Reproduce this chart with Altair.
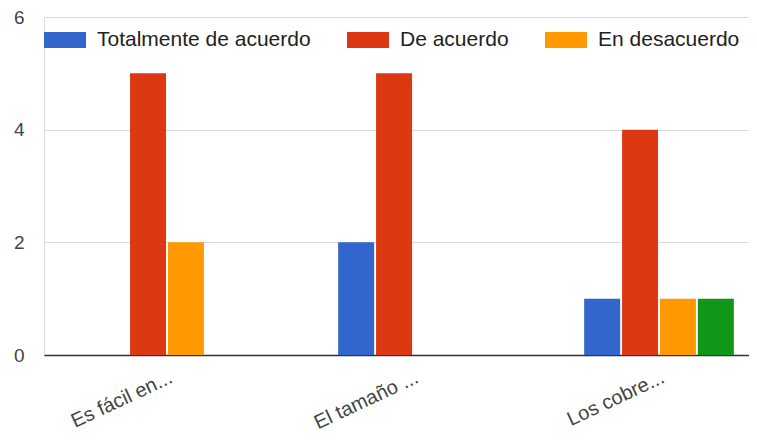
import altair as alt
import pandas as pd

categories = ["Es fácil en...", "El tamaño ...", "Los cobre..."]
series = ["Totalmente de acuerdo", "De acuerdo", "En desacuerdo", "Totalmente en desacuerdo"]
colors = ["#3366cc", "#dc3912", "#ff9900", "#109618"]
values = {
    "Totalmente de acuerdo": [0, 2, 1],
    "De acuerdo": [5, 5, 4],
    "En desacuerdo": [2, 0, 1],
    "Totalmente en desacuerdo": [0, 0, 1],
}
y_ticks = [0, 2, 4, 6]

rows = []
for s in series:
    for c, v in zip(categories, values[s]):
        rows.append({"categoria": c, "serie": s, "valor": v})
df = pd.DataFrame(rows)

FONT = "Arial, Liberation Sans"

bars = alt.Chart(df).mark_bar(size=36).encode(
    x=alt.X(
        "categoria:N",
        sort=categories,
        title=None,
        scale=alt.Scale(range=[0, 738], paddingInner=0.39, paddingOuter=0.195),
        axis=alt.Axis(
            labelAngle=-25,
            labelAlign="right",
            labelBaseline="top",
            labelFontSize=20,
            labelFont=FONT,
            labelColor="#444444",
            labelPadding=12,
            labelLimit=300,
            ticks=False,
            domain=True,
            domainColor="#333333",
            domainWidth=1.5,
            grid=False,
        ),
    ),
    xOffset=alt.XOffset(
        "serie:N",
        sort=series,
        scale=alt.Scale(domain=series, paddingInner=0.04, paddingOuter=0),
    ),
    y=alt.Y(
        "valor:Q",
        title=None,
        scale=alt.Scale(domain=[0, 6], nice=False),
        axis=alt.Axis(
            values=y_ticks,
            labelFontSize=19,
            labelFont=FONT,
            labelColor="#444444",
            labelPadding=20,
            ticks=False,
            domain=False,
            gridColor="#d9d9d9",
            gridWidth=1,
        ),
    ),
    color=alt.Color(
        "serie:N",
        scale=alt.Scale(domain=series, range=colors),
        legend=alt.Legend(
            values=series[:3],
            title=None,
            orient="none",
            legendX=0,
            legendY=2,
            direction="horizontal",
            symbolType="M-1,-0.38H1V0.38H-1Z",
            symbolSize=1764,
            symbolStrokeWidth=0,
            symbolOpacity=1,
            labelFontSize=21,
            labelFont=FONT,
            labelColor="#222222",
            labelOffset=11,
            labelLimit=400,
            columnPadding=36,
            padding=0,
        ),
    ),
)

chart = bars.properties(
    width=705,
    height=338,
    autosize=alt.AutoSizeParams(type="none"),
    padding={"left": 36, "top": 9, "right": 0, "bottom": 84},
).configure_view(stroke=None).configure(background="white")

chart.save("out.html", embed_options={"renderer": "svg", "actions": False})
